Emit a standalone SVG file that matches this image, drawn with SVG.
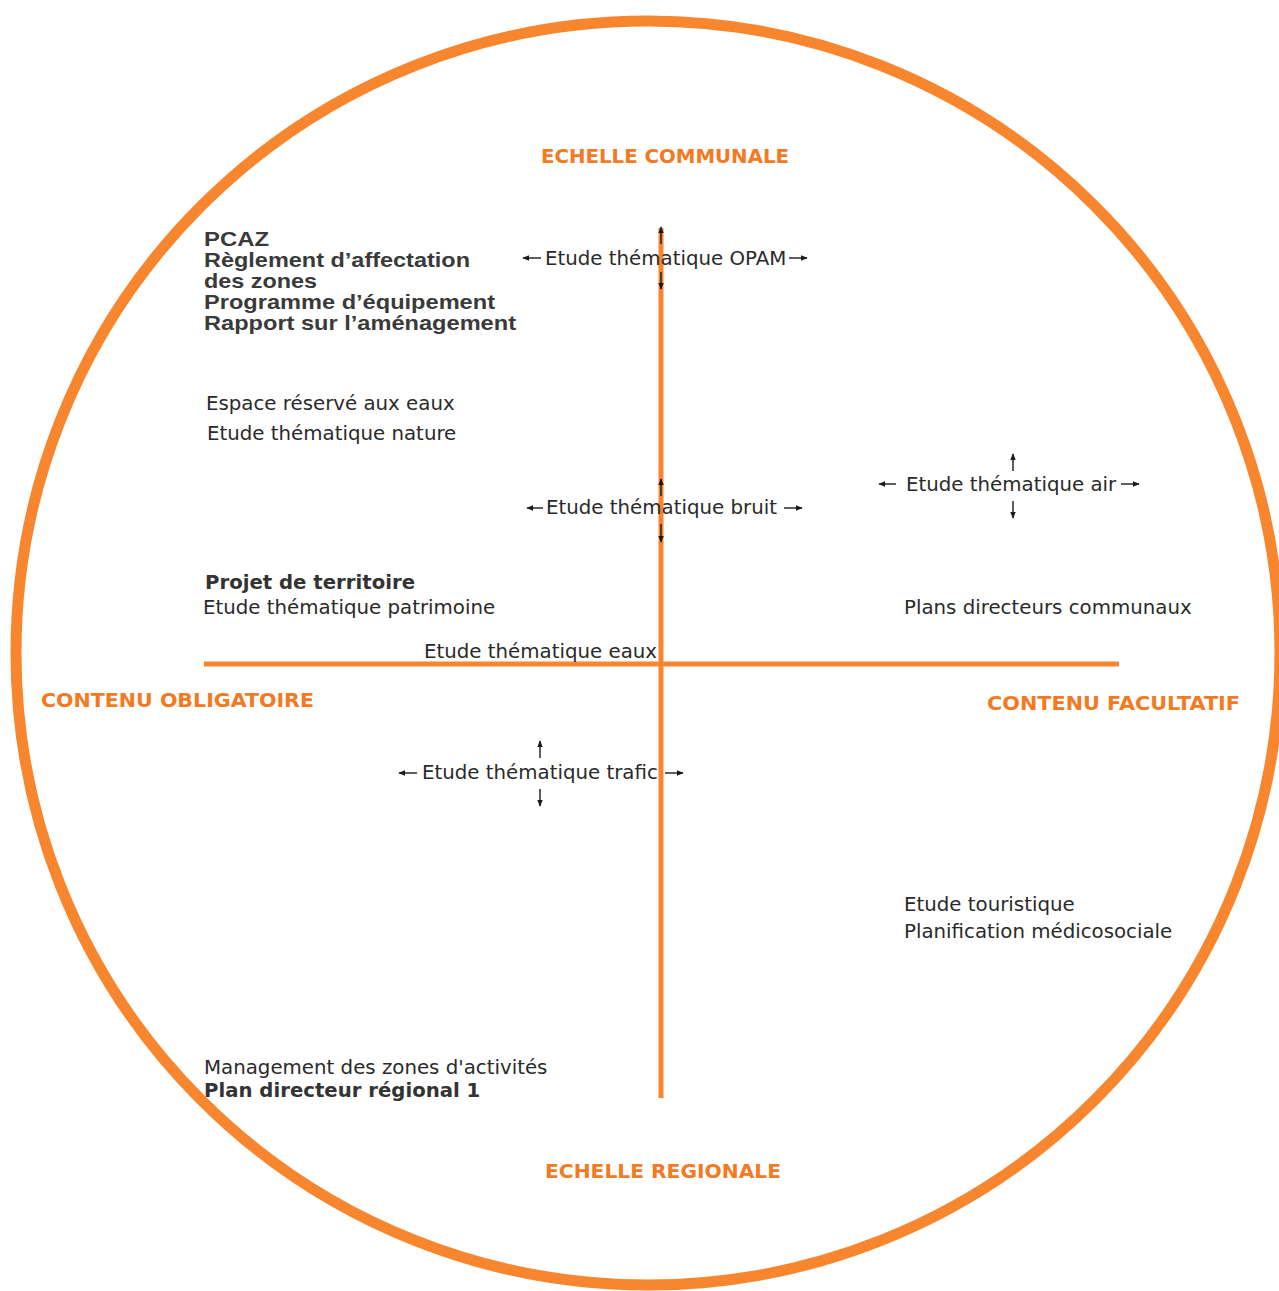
<svg xmlns="http://www.w3.org/2000/svg" width="1279" height="1291" viewBox="0 0 1279 1291">
<defs>
<marker id="ah" viewBox="0 0 10 10" refX="9" refY="5" markerWidth="5" markerHeight="5" orient="auto" markerUnits="strokeWidth">
<path d="M0,1 L10,5 L0,9 Z" fill="#1a1a1a"/>
</marker>
</defs>
<style>
.or{fill:none;stroke:#F7862F}
.hd{font-family:"DejaVu Sans",Verdana,sans-serif;font-weight:bold;font-size:20px;fill:#F37A22}
.tx{font-family:"DejaVu Sans",Verdana,sans-serif;font-size:19.8px;fill:#2a2a2a}
.bd{font-family:"DejaVu Sans",Verdana,sans-serif;font-weight:bold;font-size:19.7px;fill:#333}
.ar{font-family:"Liberation Sans",Arial,sans-serif;font-weight:bold;font-size:21px;fill:#3a3a3a}
.ar2{stroke:#1a1a1a;stroke-width:1.4;fill:none;marker-end:url(#ah)}
</style>
<rect width="1279" height="1291" fill="#fff"/>
<g id="frame">
<circle class="or" cx="648" cy="653" r="632" stroke-width="11"/>
</g>
<g id="connectors">
<line class="or" x1="661" y1="228" x2="661" y2="1098" stroke-width="5"/>
<line class="or" x1="204" y1="664" x2="1119" y2="664" stroke-width="5"/>
<line class="ar2" x1="541" y1="258" x2="523" y2="258"/>
<line class="ar2" x1="789" y1="258" x2="807" y2="258"/>
<line class="ar2" x1="661" y1="244" x2="661" y2="227"/>
<line class="ar2" x1="661" y1="272" x2="661" y2="289"/>
<line class="ar2" x1="543" y1="508" x2="527" y2="508"/>
<line class="ar2" x1="784" y1="508" x2="802" y2="508"/>
<line class="ar2" x1="661" y1="496" x2="661" y2="479"/>
<line class="ar2" x1="661" y1="524" x2="661" y2="542"/>
<line class="ar2" x1="896" y1="484" x2="879" y2="484"/>
<line class="ar2" x1="1121" y1="484" x2="1139" y2="484"/>
<line class="ar2" x1="1013" y1="471" x2="1013" y2="454"/>
<line class="ar2" x1="1013" y1="501" x2="1013" y2="518"/>
<line class="ar2" x1="417" y1="773" x2="399" y2="773"/>
<line class="ar2" x1="665" y1="773" x2="683" y2="773"/>
<line class="ar2" x1="540" y1="758" x2="540" y2="741"/>
<line class="ar2" x1="540" y1="789" x2="540" y2="806"/>
</g>
<g id="echelle-communale"><text class="hd" x="541" y="163" textLength="248" lengthAdjust="spacingAndGlyphs">ECHELLE COMMUNALE</text></g>
<g id="echelle-regionale"><text class="hd" x="545" y="1178" textLength="236" lengthAdjust="spacingAndGlyphs">ECHELLE REGIONALE</text></g>
<g id="contenu-obligatoire"><text class="hd" x="41" y="707" textLength="273" lengthAdjust="spacingAndGlyphs">CONTENU OBLIGATOIRE</text></g>
<g id="contenu-facultatif"><text class="hd" x="987" y="710" textLength="253" lengthAdjust="spacingAndGlyphs">CONTENU FACULTATIF</text></g>
<g id="pcaz">
<text class="ar" x="204" y="246" textLength="65" lengthAdjust="spacingAndGlyphs">PCAZ</text>
<text class="ar" x="204" y="267" textLength="266" lengthAdjust="spacingAndGlyphs">Règlement d’affectation</text>
<text class="ar" x="204" y="288" textLength="113" lengthAdjust="spacingAndGlyphs">des zones</text>
<text class="ar" x="204" y="309" textLength="291" lengthAdjust="spacingAndGlyphs">Programme d’équipement</text>
<text class="ar" x="204" y="330" textLength="312" lengthAdjust="spacingAndGlyphs">Rapport sur l’aménagement</text>
</g>
<g id="opam"><text class="tx" x="545" y="265">Etude thématique OPAM</text></g>
<g id="espace"><text class="tx" x="206" y="410">Espace réservé aux eaux</text></g>
<g id="nature"><text class="tx" x="207" y="440">Etude thématique nature</text></g>
<g id="bruit"><text class="tx" x="546" y="514">Etude thématique bruit</text></g>
<g id="air"><text class="tx" x="906" y="491">Etude thématique air</text></g>
<g id="projet"><text class="bd" x="205" y="589">Projet de territoire</text></g>
<g id="patrimoine"><text class="tx" x="203" y="614">Etude thématique patrimoine</text></g>
<g id="plans"><text class="tx" x="904" y="614">Plans directeurs communaux</text></g>
<g id="eaux"><text class="tx" x="424" y="658">Etude thématique eaux</text></g>
<g id="trafic"><text class="tx" x="422" y="779">Etude thématique trafic</text></g>
<g id="touristique"><text class="tx" x="904" y="911">Etude touristique</text></g>
<g id="medicosociale"><text class="tx" x="904" y="938">Planification médicosociale</text></g>
<g id="management"><text class="tx" x="204" y="1074">Management des zones d'activités</text></g>
<g id="pdr"><text class="bd" x="204" y="1097">Plan directeur régional 1</text></g>
</svg>
